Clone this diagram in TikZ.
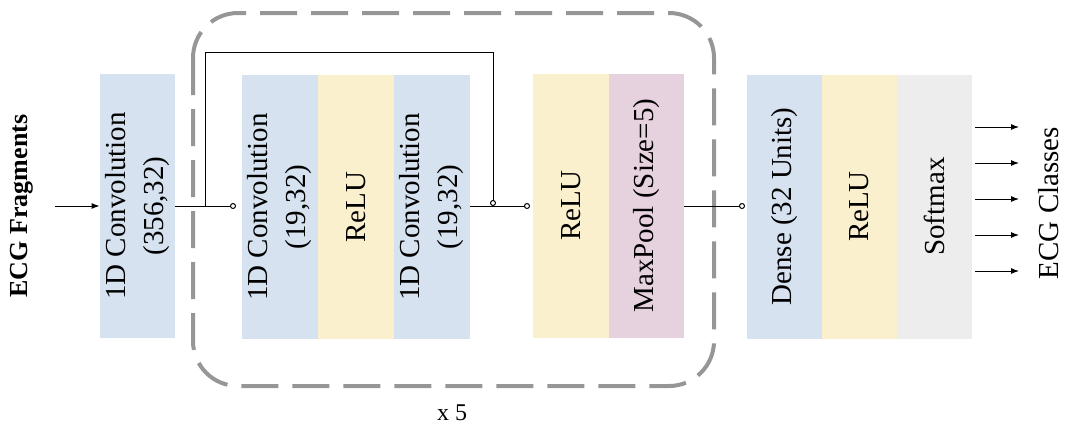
\documentclass[tikz,border=0pt]{standalone}
\usepackage{fontspec}
\setmainfont{Liberation Serif}
\usetikzlibrary{arrows.meta}
\definecolor{convblue}{RGB}{214,226,240}
\definecolor{reluyel}{RGB}{251,240,206}
\definecolor{poolpink}{RGB}{230,210,222}
\definecolor{softgrey}{RGB}{237,237,237}
\definecolor{dashgrey}{RGB}{150,150,150}
\tikzset{
  layer/.style={rotate=90, minimum width=264pt, minimum height=75.5pt, inner sep=0pt, align=center,
    font=\fontsize{29}{38}\selectfont},
  conn/.style={line width=1pt, black},
  arr/.style={conn, -{Latex[length=8pt,width=6pt]}},
  ocirc/.style={conn, -{Circle[open,length=6pt,width=6pt,line width=1pt]}},
  dashbox/.style={draw=dashgrey, line width=4pt, dash pattern=on 37pt off 14pt, rounded corners=45pt}
}
\begin{document}
\begin{tikzpicture}[x=1pt,y=-1pt]
\useasboundingbox (0,0) rectangle (1068,437);
\draw[dashbox] (193,13) rectangle (714,386);
\node[layer, fill=convblue] (c0) at (137.5,206) {1D Convolution\\(356,32)};
\node[layer, fill=convblue] (b1) at (280,207) {1D Convolution\\(19,32)};
\node[layer, fill=reluyel] (b2) at (356,207) {ReLU};
\node[layer, fill=convblue] (b3) at (432,207) {1D Convolution\\(19,32)};
\node[layer, fill=reluyel] (r1) at (571,205.5) {ReLU};
\node[layer, fill=poolpink] (mp) at (646.5,205.5) {MaxPool (Size=5)};
\node[layer, fill=convblue] (d) at (784.5,206.5) {Dense (32 Units)};
\node[layer, fill=reluyel] (r2) at (859.5,206.5) {ReLU};
\node[layer, fill=softgrey] (sm) at (934.5,206.5) {Softmax};
\node[rotate=90, font=\fontsize{26}{30}\selectfont\bfseries] (inlab) at (22,206) {ECG Fragments};
\node[rotate=90, font=\fontsize{29}{36}\selectfont] (outlab) at (1049,203) {ECG Classes};
\node[font=\fontsize{24}{28}\selectfont] (times) at (452,413) {x 5};
\coordinate (inp) at (55,206);
\coordinate (e0) at (236,206);
\coordinate (sk) at (205,206);
\coordinate (skt1) at (205,52);
\coordinate (skt2) at (493,52);
\coordinate (skb) at (493,206);
\coordinate (e1) at (530,206);
\coordinate (e2) at (745,206);
\draw[arr] (inp) -- (c0.north |- inp);
\draw[ocirc] (c0.south |- e0) -- (e0);
\draw[ocirc] (sk) -- (skt1) -- (skt2) -- (skb);
\draw[ocirc] (b3.south |- e1) -- (e1);
\draw[ocirc] (mp.south |- e2) -- (e2);
\foreach \yy in {127,163,199,235,271}{
  \coordinate (os) at (975,\yy);
  \coordinate (oe) at (1019,\yy);
  \draw[arr] (os) -- (oe);
}
\end{tikzpicture}
\end{document}
